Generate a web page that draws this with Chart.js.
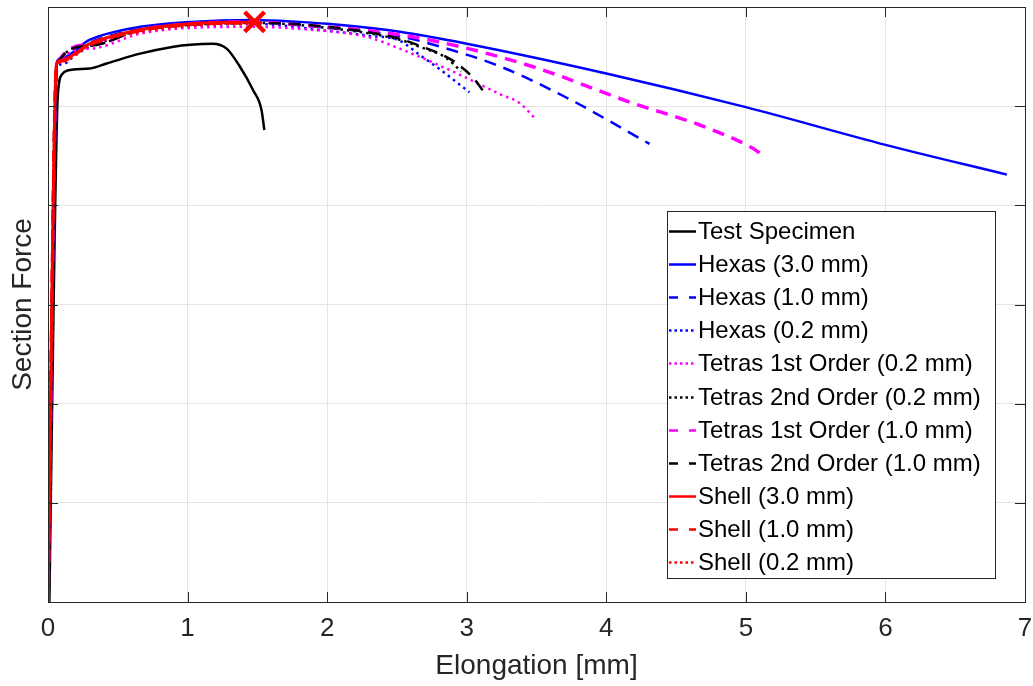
<!DOCTYPE html>
<html>
<head>
<meta charset="utf-8">
<script src="https://cdn.jsdelivr.net/npm/chart.js@4.4.1/dist/chart.umd.min.js"></script>
<style>
  body { margin: 0; background: #fff; }
</style>
</head>
<body>
<canvas id="chart" width="1033" height="686"></canvas>
<script>
// x: elongation [mm], y: section force (no units shown, one grid step = 1)
const xTicks = [0, 1, 2, 3, 4, 5, 6, 7];

const specimenX = [0.01, 0.04, 0.07, 0.10, 0.14, 0.30, 0.42, 0.66, 0.90, 1.02, 1.18, 1.28, 1.37, 1.47, 1.53, 1.55];
const specimenY = [0, 3.0, 5.10, 5.32, 5.36, 5.38, 5.43, 5.53, 5.60, 5.62, 5.63, 5.58, 5.41, 5.16, 4.96, 4.76];

const hexa30X = [0, 0.065, 0.09, 0.30, 0.66, 1.02, 1.47, 1.80, 2.00, 2.52, 3.00, 4.00, 5.00, 6.00, 6.87];
const hexa30Y = [0, 5.45, 5.48, 5.67, 5.80, 5.85, 5.87, 5.85, 5.83, 5.75, 5.63, 5.33, 4.99, 4.61, 4.31];

const hexa10X = [0, 0.065, 0.09, 0.30, 0.66, 1.02, 1.47, 2.00, 2.50, 2.81, 3.24, 3.71, 4.31];
const hexa10Y = [0, 5.44, 5.47, 5.64, 5.78, 5.83, 5.85, 5.79, 5.71, 5.60, 5.40, 5.09, 4.62];

const hexa02X = [0, 0.065, 0.10, 0.20, 0.30, 0.66, 1.02, 1.47, 2.00, 2.30, 2.52, 2.66, 2.81, 2.92, 3.02];
const hexa02Y = [0, 5.42, 5.42, 5.52, 5.60, 5.75, 5.81, 5.83, 5.76, 5.71, 5.66, 5.52, 5.37, 5.25, 5.14];

const tet1st02X = [0, 0.065, 0.30, 0.66, 1.02, 1.47, 1.80, 2.28, 2.52, 2.90, 3.24, 3.38, 3.50];
const tet1st02Y = [0, 5.41, 5.58, 5.73, 5.79, 5.80, 5.78, 5.70, 5.58, 5.35, 5.12, 5.03, 4.86];

const tet2nd02X = [0, 0.065, 0.30, 0.66, 1.02, 1.47, 2.00, 2.52, 2.66, 2.85, 2.96];
const tet2nd02Y = [0, 5.43, 5.61, 5.77, 5.82, 5.84, 5.79, 5.67, 5.60, 5.49, 5.35];

const tet1st10X = [0, 0.065, 0.30, 0.66, 1.02, 1.47, 1.80, 2.30, 2.76, 3.47, 4.19, 4.67, 5.03, 5.14];
const tet1st10Y = [0, 5.43, 5.62, 5.77, 5.83, 5.85, 5.82, 5.76, 5.66, 5.40, 5.03, 4.81, 4.59, 4.49];

const tet2nd10X = [0, 0.065, 0.30, 0.66, 1.02, 1.47, 2.00, 2.52, 2.66, 2.85, 2.93, 3.05, 3.14];
const tet2nd10Y = [0, 5.43, 5.61, 5.77, 5.82, 5.84, 5.80, 5.68, 5.61, 5.50, 5.43, 5.28, 5.11];

const shell30X = [0, 0.06, 0.09, 0.30, 0.66, 1.02, 1.48];
const shell30Y = [0, 5.42, 5.46, 5.63, 5.77, 5.83, 5.85];

const shell10X = [0, 0.06, 0.09, 0.30, 0.66, 1.02, 1.47, 1.58];
const shell10Y = [0, 5.42, 5.45, 5.62, 5.76, 5.82, 5.84, 5.84];

const shell02X = [0, 0.06, 0.09, 0.30, 0.66, 1.02, 1.47, 1.52];
const shell02Y = [0, 5.41, 5.44, 5.61, 5.75, 5.81, 5.83, 5.83];

const failureX = [1.48];
const failureY = [5.85];

const pts = (xs, ys) => xs.map((x, i) => ({ x: x, y: ys[i] }));

const DASH = [12, 8];
const DOT = [2.5, 4];

function series(label, xs, ys, color, width, dash, order) {
  return {
    label: label,
    data: pts(xs, ys),
    borderColor: color,
    backgroundColor: color,
    borderWidth: width,
    borderDash: dash,
    pointRadius: 0,
    fill: false,
    cubicInterpolationMode: 'monotone',
    order: order
  };
}

const datasets = [
  series('Test Specimen', specimenX, specimenY, '#000000', 2.5, [], 0),
  series('Hexas (3.0 mm)', hexa30X, hexa30Y, '#0000ff', 2.5, [], -1),
  series('Hexas (1.0 mm)', hexa10X, hexa10Y, '#0000ff', 2.5, DASH, -2),
  series('Hexas (0.2 mm)', hexa02X, hexa02Y, '#0000ff', 2.5, DOT, -3),
  series('Tetras 1st Order (0.2 mm)', tet1st02X, tet1st02Y, '#ff00ff', 2.5, DOT, -4),
  series('Tetras 2nd Order (0.2 mm)', tet2nd02X, tet2nd02Y, '#000000', 2.5, DOT, -5),
  series('Tetras 1st Order (1.0 mm)', tet1st10X, tet1st10Y, '#ff00ff', 3.5, DASH, -6),
  series('Tetras 2nd Order (1.0 mm)', tet2nd10X, tet2nd10Y, '#000000', 2.5, DASH, -7),
  series('Shell (3.0 mm)', shell30X, shell30Y, '#ff0000', 3, [], -8),
  series('Shell (1.0 mm)', shell10X, shell10Y, '#ff0000', 3, DASH, -9),
  series('Shell (0.2 mm)', shell02X, shell02Y, '#ff0000', 2.5, DOT, -10),
  {
    label: 'failure',
    data: pts(failureX, failureY),
    showLine: false,
    pointStyle: 'crossRot',
    pointRadius: 14,
    borderWidth: 4.5,
    borderColor: '#ff0000',
    backgroundColor: '#ff0000',
    order: -20
  }
];

const FONT = '"Liberation Sans", Arial, Helvetica, sans-serif';

// MATLAB-like box with inward ticks
const framePlugin = {
  id: 'frame',
  afterDatasetsDraw(chart) {
    const { ctx, chartArea: a, scales } = chart;
    ctx.save();
    ctx.strokeStyle = '#262626';
    ctx.lineWidth = 1;
    ctx.strokeRect(a.left + 0.5, a.top + 0.5, a.right - a.left, a.bottom - a.top);
    ctx.beginPath();
    scales.x.ticks.forEach(t => {
      const px = Math.round(scales.x.getPixelForValue(t.value)) + 0.5;
      ctx.moveTo(px, a.bottom); ctx.lineTo(px, a.bottom - 10);
      ctx.moveTo(px, a.top); ctx.lineTo(px, a.top + 10);
    });
    scales.y.ticks.forEach(t => {
      const py = Math.round(scales.y.getPixelForValue(t.value)) + 0.5;
      ctx.moveTo(a.left, py); ctx.lineTo(a.left + 10, py);
      ctx.moveTo(a.right, py); ctx.lineTo(a.right - 10, py);
    });
    ctx.stroke();
    ctx.restore();
  }
};

// legend box inside the axes
const legendPlugin = {
  id: 'boxLegend',
  afterDraw(chart) {
    const { ctx } = chart;
    const items = chart.data.datasets.filter(d => d.label !== 'failure');
    const left = 667, top = 211, right = 995, bottom = 578;
    const rowH = 33.1, firstY = 231;
    ctx.save();
    ctx.fillStyle = '#ffffff';
    ctx.fillRect(left, top, right - left, bottom - top);
    ctx.strokeStyle = '#262626';
    ctx.lineWidth = 1;
    ctx.strokeRect(left + 0.5, top + 0.5, right - left, bottom - top);
    ctx.font = '24px ' + FONT;
    ctx.textBaseline = 'middle';
    items.forEach((d, i) => {
      const cy = Math.round(firstY + i * rowH) + 0.5;
      ctx.beginPath();
      ctx.strokeStyle = d.borderColor;
      ctx.lineWidth = Math.min(d.borderWidth, 2.5);
      ctx.setLineDash(d.borderDash && d.borderDash.length ? (d.borderDash[0] > 5 ? [9, 11] : [2.5, 3]) : []);
      ctx.moveTo(669, cy);
      ctx.lineTo(696, cy);
      ctx.stroke();
      ctx.setLineDash([]);
      ctx.fillStyle = '#000000';
      ctx.fillText(d.label, 698, cy + 1);
    });
    ctx.restore();
  }
};

new Chart(document.getElementById('chart'), {
  type: 'line',
  data: { datasets: datasets },
  options: {
    responsive: false,
    animation: false,
    events: [],
    layout: { autoPadding: false, padding: { top: 7, right: 8, left: 0, bottom: 0 } },
    plugins: {
      legend: { display: false },
      tooltip: { enabled: false }
    },
    scales: {
      x: {
        type: 'linear',
        min: 0,
        max: 7,
        afterBuildTicks: s => { s.ticks = xTicks.map(v => ({ value: v })); },
        afterFit: s => { s.height = 84; s.paddingLeft = 0; s.paddingRight = 0; },
        grid: { color: '#e5e5e5', drawTicks: false },
        border: { display: false },
        ticks: { color: '#262626', padding: 11, font: { family: FONT, size: 26 } },
        title: {
          display: true,
          text: 'Elongation [mm]',
          color: '#262626',
          padding: { top: 0, bottom: 3 },
          font: { family: FONT, size: 28 }
        }
      },
      y: {
        type: 'linear',
        min: 0,
        max: 6,
        ticks: { display: false, stepSize: 1 },
        afterFit: s => { s.width = 48; },
        grid: { color: '#e5e5e5', drawTicks: false },
        border: { display: false },
        title: {
          display: true,
          text: 'Section Force',
          color: '#262626',
          padding: { top: 6, bottom: 0 },
          font: { family: FONT, size: 28 }
        }
      }
    }
  },
  plugins: [framePlugin, legendPlugin]
});
</script>
</body>
</html>
